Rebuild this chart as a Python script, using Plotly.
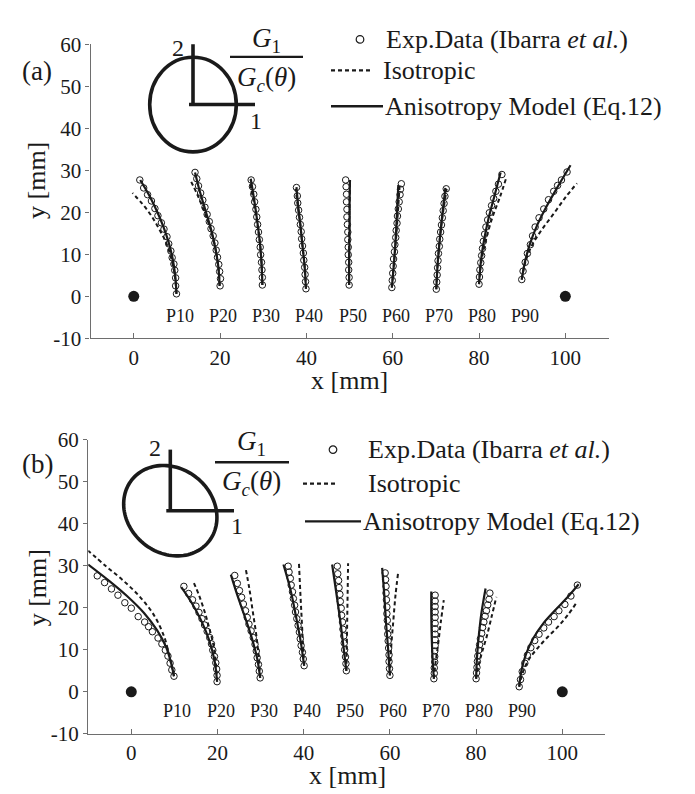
import numpy as np
import plotly.graph_objects as go

W, H = 695, 794

# ---------------- data ----------------
labels = ["P10", "P20", "P30", "P40", "P50", "P60", "P70", "P80", "P90"]
label_x = [10, 20, 30, 40, 50, 60, 70, 80, 90]
support_x = [0, 100]
support_y = [0, 0]
x_ticks = [0, 20, 40, 60, 80, 100]
y_ticks = [-10, 0, 10, 20, 30, 40, 50, 60]
y_tick_text = ["-10", "0", "10", "20", "30", "40", "50", "60"]

# Panel (a): experimental points
a_exp_x = [
    [9.9, 9.7, 9.7, 9.5, 9.3, 8.9, 8.6, 8.1, 7.7, 7.0, 6.4, 5.6, 4.9, 4.1, 3.2, 2.3, 1.4],
    [20.0, 20.1, 19.9, 19.7, 19.4, 19.1, 18.8, 18.4, 17.9, 17.5, 17.0, 16.5, 16.0, 15.5, 15.0, 14.6, 14.2],
    [29.8, 29.8, 29.7, 29.6, 29.4, 29.3, 29.1, 28.9, 28.7, 28.5, 28.3, 28.0, 27.8, 27.5, 27.2],
    [39.9, 39.8, 39.7, 39.6, 39.4, 39.3, 39.1, 38.9, 38.8, 38.6, 38.4, 38.2, 38.0, 37.9, 37.7],
    [49.9, 49.9, 49.8, 49.8, 49.7, 49.7, 49.6, 49.6, 49.5, 49.4, 49.4, 49.3, 49.3, 49.2, 49.1],
    [59.8, 59.9, 60.0, 60.1, 60.2, 60.4, 60.5, 60.7, 60.8, 61.0, 61.1, 61.3, 61.5, 61.7, 61.8, 62.0],
    [70.1, 70.2, 70.3, 70.4, 70.5, 70.6, 70.8, 70.9, 71.1, 71.3, 71.5, 71.7, 71.9, 72.1, 72.4],
    [80.0, 80.1, 80.2, 80.4, 80.6, 80.8, 81.0, 81.3, 81.6, 82.0, 82.4, 82.9, 83.4, 83.9, 84.5, 85.3],
    [89.9, 90.2, 90.7, 91.2, 91.9, 92.4, 93.0, 93.9, 95.0, 96.1, 97.3, 98.2, 99.1, 100.4],
]
a_exp_y = [
    [0.6, 2.5, 4.4, 6.2, 7.7, 9.2, 10.8, 12.5, 14.2, 16.0, 17.5, 19.2, 20.9, 22.7, 24.2, 25.8, 27.7],
    [2.5, 4.2, 5.9, 7.6, 9.3, 11.0, 12.7, 14.4, 16.1, 17.8, 19.5, 21.2, 22.9, 24.6, 26.3, 28.0, 29.5],
    [2.7, 4.5, 6.3, 8.1, 9.9, 11.7, 13.5, 15.3, 17.1, 18.9, 20.7, 22.5, 24.3, 26.1, 27.7],
    [1.8, 3.5, 5.2, 6.9, 8.6, 10.3, 12.0, 13.7, 15.4, 17.1, 18.8, 20.5, 22.2, 23.9, 25.9],
    [2.7, 4.5, 6.3, 8.1, 9.9, 11.7, 13.5, 15.3, 17.1, 18.9, 20.7, 22.5, 24.3, 26.1, 27.7],
    [2.1, 3.8, 5.5, 7.2, 8.9, 10.6, 12.3, 14.0, 15.7, 17.4, 19.1, 20.8, 22.5, 24.2, 25.5, 26.8],
    [1.7, 3.4, 5.1, 6.8, 8.5, 10.2, 11.9, 13.6, 15.3, 17.0, 18.7, 20.4, 22.1, 23.8, 25.6],
    [2.9, 4.6, 6.3, 8.0, 9.7, 11.4, 13.1, 14.8, 16.5, 18.2, 19.9, 21.6, 23.3, 25.0, 26.7, 29.0],
    [4.0, 6.0, 8.1, 10.2, 12.3, 14.4, 16.5, 18.7, 20.8, 23.0, 25.0, 26.4, 27.7, 29.6],
]
# Panel (a): anisotropy model
a_mod_x = [
    [9.9, 9.6, 9.0, 8.1, 6.9, 5.4, 3.6, 1.5],
    [19.9, 19.6, 18.9, 17.9, 16.6, 15.3, 14.2],
    [29.8, 29.6, 29.2, 28.6, 27.9, 27.1],
    [39.9, 39.6, 39.1, 38.6, 38.1, 37.7],
    [49.9, 49.9, 50.0, 50.0, 50.1],
    [59.8, 60.3, 60.7, 61.0, 61.3],
    [70.1, 70.4, 70.9, 71.5, 72.2],
    [80.0, 80.4, 81.1, 82.2, 83.6, 85.0],
    [89.9, 90.6, 91.8, 93.5, 95.7, 98.3, 101.2],
]
a_mod_y = [
    [0.6, 5, 9, 12.8, 16.5, 20.2, 24, 27.7],
    [2.5, 7, 11.5, 16, 20.5, 25, 29.5],
    [2.7, 8, 13, 18, 23, 28],
    [1.8, 7, 12, 17, 21.5, 26],
    [2.7, 9, 15, 21, 27.7],
    [2.1, 8, 14, 20, 26.5],
    [1.7, 7.5, 13.5, 19.5, 25.8],
    [2.9, 8, 13, 18.5, 24, 29.5],
    [4.0, 8, 12.5, 17, 21.5, 26.2, 31.2],
]
# Panel (a): isotropic
a_iso_x = [
    [9.9, 9.5, 8.7, 7.6, 5.9, 4.0, 2.0, -0.3],
    [19.9, 19.6, 18.9, 17.8, 16.3, 14.7, 13.0],
    [29.8, 29.6, 29.2, 28.5, 27.7, 26.8],
    [39.9, 39.6, 39.1, 38.6, 38.0, 37.5],
    [49.9, 49.9, 49.9, 50.0, 50.1],
    [59.8, 60.3, 60.8, 61.2, 61.6],
    [70.1, 70.4, 70.9, 71.6, 72.5],
    [80.0, 80.5, 81.5, 83.0, 84.8, 86.4],
    [89.9, 90.7, 92.2, 94.5, 97.4, 100.2, 102.7],
]
a_iso_y = [
    [0.6, 5, 9, 12.5, 16, 19.3, 22.0, 24.6],
    [2.5, 7, 11.5, 16, 20.3, 24.3, 27.9],
    [2.7, 8, 13, 18, 23, 27.5],
    [1.8, 7, 12, 17, 21.5, 25.6],
    [2.7, 9, 15, 21, 27.5],
    [2.1, 8, 14, 20, 26.3],
    [1.7, 7.5, 13.5, 19.5, 25.6],
    [2.9, 8, 13, 18.5, 23.5, 28.5],
    [4.0, 8, 12, 15.8, 19.8, 23.8, 26.9],
]

# Panel (b): experimental points
b_exp_x = [
    [9.9, 9.4, 9.0, 8.5, 7.9, 7.1, 6.2, 4.9, 4.0, 3.1, 1.6, 0.0, -1.5, -3.1, -4.6, -6.2, -7.9],
    [19.9, 19.9, 19.8, 19.6, 19.3, 18.9, 18.6, 18.2, 17.6, 17.0, 16.4, 15.7, 15.0, 14.2, 13.3, 12.2],
    [29.9, 29.7, 29.5, 29.2, 29.0, 28.7, 28.3, 27.8, 27.3, 26.9, 26.5, 26.0, 25.6, 25.1, 24.6, 24.0],
    [40.1, 39.9, 39.7, 39.4, 39.2, 39.0, 38.7, 38.4, 38.1, 37.9, 37.6, 37.4, 37.1, 36.9, 36.6, 36.4],
    [49.9, 49.8, 49.7, 49.5, 49.4, 49.3, 49.1, 49.0, 48.8, 48.7, 48.5, 48.4, 48.2, 48.1, 47.9, 47.8],
    [60.0, 59.9, 59.8, 59.8, 59.7, 59.6, 59.5, 59.5, 59.4, 59.3, 59.3, 59.2, 59.1, 59.1, 59.0, 58.9],
    [70.2, 70.3, 70.3, 70.4, 70.4, 70.4, 70.5, 70.5, 70.5, 70.5, 70.5, 70.5, 70.5, 70.5, 70.5, 70.5],
    [80.0, 80.1, 80.2, 80.3, 80.4, 80.6, 80.8, 81.0, 81.3, 81.5, 81.8, 82.1, 82.4, 82.7, 83.0, 83.2],
    [90.0, 90.3, 90.7, 91.3, 91.9, 92.7, 93.6, 94.6, 95.7, 96.8, 98.1, 99.2, 100.6, 102.0, 103.5],
]
b_exp_y = [
    [3.7, 5.2, 6.8, 8.5, 9.9, 11.4, 12.8, 14.3, 15.5, 16.6, 17.9, 19.9, 21.2, 23.0, 24.5, 26.0, 27.6],
    [2.4, 3.9, 5.4, 6.9, 8.4, 9.9, 11.4, 12.9, 14.4, 15.9, 17.4, 18.9, 20.4, 21.9, 23.4, 25.1],
    [3.3, 4.9, 6.5, 8.1, 9.7, 11.3, 12.9, 14.5, 16.1, 17.7, 19.3, 20.9, 22.5, 24.1, 25.8, 27.7],
    [6.2, 7.8, 9.4, 11.0, 12.6, 14.2, 15.8, 17.4, 19.0, 20.6, 22.2, 23.8, 25.4, 27.0, 28.5, 29.9],
    [5.0, 6.7, 8.3, 10.0, 11.6, 13.3, 14.9, 16.6, 18.2, 19.9, 21.5, 23.2, 24.8, 26.5, 28.1, 29.9],
    [3.9, 5.5, 7.2, 8.8, 10.4, 12.1, 13.7, 15.3, 17.0, 18.6, 20.2, 21.9, 23.5, 25.1, 26.7, 28.3],
    [3.1, 4.4, 5.7, 7.1, 8.4, 9.7, 11.0, 12.4, 13.7, 15.0, 16.3, 17.7, 19.0, 20.3, 21.6, 23.0],
    [3.1, 4.5, 5.8, 7.2, 8.5, 9.9, 11.2, 12.6, 13.9, 15.3, 16.6, 18.0, 19.3, 20.7, 22.0, 23.5],
    [1.2, 2.9, 4.8, 6.8, 8.7, 10.5, 12.2, 13.7, 15.2, 16.6, 17.9, 19.3, 20.8, 22.8, 25.4],
]
# Panel (b): anisotropy model
b_mod_x = [
    [9.9, 9.2, 8.0, 6.0, 3.0, -1.0, -5.0, -10.0],
    [19.9, 19.3, 18.0, 16.2, 14.0, 11.6],
    [29.9, 29.2, 27.9, 26.3, 24.6, 23.1],
    [40.1, 39.3, 38.2, 37.0, 35.3],
    [49.9, 49.2, 48.4, 47.5, 46.6],
    [60.0, 59.6, 59.1, 58.7, 58.2],
    [70.2, 69.9, 69.7, 69.6, 69.6],
    [80.0, 80.2, 80.6, 81.2, 82.2],
    [90.0, 90.5, 91.6, 93.3, 95.6, 98.5, 101.2, 103.8],
]
b_mod_y = [
    [3.7, 7.0, 10.8, 14.6, 18.7, 22.8, 26.3, 30.3],
    [2.4, 7.5, 12.5, 17.0, 21.2, 24.9],
    [3.3, 8, 13, 18, 23, 27.9],
    [6.2, 12, 18, 24, 30.3],
    [5.0, 11, 17.5, 24, 30.3],
    [3.9, 10, 16.5, 23, 29.5],
    [3.1, 8, 13, 18.5, 23.9],
    [3.1, 8, 13, 18.5, 24.6],
    [1.2, 5, 9, 12.8, 16.3, 19.6, 22.5, 25.6],
]
# Panel (b): isotropic
b_iso_x = [
    [9.9, 9.3, 8.6, 7.7, 5.4, 2.0, -2.0, -6.0, -10.0],
    [19.9, 19.6, 19.0, 18.0, 17.0, 15.7, 14.3],
    [29.9, 29.6, 29.0, 28.2, 27.4, 26.5],
    [40.1, 39.8, 39.5, 39.2, 38.9],
    [49.9, 50.0, 50.1, 50.2, 50.3],
    [60.0, 60.3, 60.8, 61.3, 61.9],
    [70.2, 70.6, 71.2, 71.8, 72.5],
    [80.0, 80.5, 81.4, 82.5, 83.6, 84.7],
    [90.0, 90.8, 92.3, 94.2, 96.4, 99.0, 101.3, 103.3],
]
b_iso_y = [
    [3.7, 6.5, 9.5, 12.9, 18.0, 22.6, 26.6, 30.0, 33.6],
    [2.4, 7, 11.4, 15.5, 19.1, 23.0, 26.4],
    [3.3, 8, 13.5, 19, 24.5, 29.5],
    [6.2, 12, 18, 24, 30.6],
    [5.0, 11, 17.5, 24, 30.6],
    [3.9, 10.6, 17, 23, 28.3],
    [3.1, 7, 11.4, 16.5, 21.8],
    [3.1, 6.0, 9.5, 13.3, 17.9, 22.6],
    [1.2, 4.5, 7.8, 10.3, 12.8, 15.5, 18.3, 21.2],
]

# ---------------- figure ----------------
FONT = "Liberation Serif"
INK = "#1a1a1a"
AXC = "#6e6e6e"
DASH = "4px,3px"


def P(px, py):
    """pixel -> paper"""
    return px / W, 1 - py / H


fig = go.Figure()

panels = [
    ("x", "y", a_exp_x, a_exp_y, a_mod_x, a_mod_y, a_iso_x, a_iso_y),
    ("x2", "y2", b_exp_x, b_exp_y, b_mod_x, b_mod_y, b_iso_x, b_iso_y),
]
for xa, ya, ex, ey, mx, my, ix, iy in panels:
    for i in range(len(labels)):
        fig.add_trace(go.Scatter(x=ix[i], y=iy[i], mode="lines", xaxis=xa, yaxis=ya,
                                 line=dict(color=INK, width=2, dash=DASH, shape="spline", smoothing=1.0),
                                 showlegend=False))
        fig.add_trace(go.Scatter(x=mx[i], y=my[i], mode="lines", xaxis=xa, yaxis=ya,
                                 line=dict(color=INK, width=2.2, shape="spline", smoothing=1.0),
                                 showlegend=False))
        fig.add_trace(go.Scatter(x=ex[i], y=ey[i], mode="markers", xaxis=xa, yaxis=ya,
                                 marker=dict(symbol="circle-open", size=6.5, color=INK, line=dict(width=1)),
                                 showlegend=False))
    fig.add_trace(go.Scatter(x=support_x, y=support_y, mode="markers", xaxis=xa, yaxis=ya,
                             marker=dict(symbol="circle", size=11, color=INK), showlegend=False))

axis_common = dict(showgrid=False, zeroline=False, showline=True, linecolor=AXC, linewidth=1.4,
                   tickcolor=AXC, tickwidth=1.2, tickfont=dict(family=FONT, size=21, color=INK))
xa_kw = dict(range=[-10, 110], tickvals=x_ticks, ticks="inside", ticklen=5, **axis_common)
ya_kw = dict(range=[-10, 60], tickvals=y_ticks, ticktext=y_tick_text, ticks="outside", ticklen=4, **axis_common)

fig.update_layout(
    width=W, height=H, margin=dict(l=0, r=0, t=0, b=0),
    paper_bgcolor="white", plot_bgcolor="white",
    font=dict(family=FONT, color=INK),
    xaxis=dict(domain=[82.6 / W, 600.5 / W], anchor="y", **xa_kw),
    yaxis=dict(domain=[1 - 328.3 / H, 1 - 25 / H], anchor="x", **ya_kw),
    xaxis2=dict(domain=[80.2 / W, 597.4 / W], anchor="y2", **xa_kw),
    yaxis2=dict(domain=[1 - 736 / H, 1 - 432.9 / H], anchor="x2", **ya_kw),
)

ann = []
shapes = []


def text(s, px, py, size, xanchor="center", angle=0):
    x, y = P(px, py)
    ann.append(dict(text=s, x=x, y=y, xref="paper", yref="paper", showarrow=False,
                    xanchor=xanchor, yanchor="middle", textangle=angle,
                    font=dict(family=FONT, size=size, color=INK)))


def line(px0, py0, px1, py1, width, dash=None):
    x0, y0 = P(px0, py0)
    x1, y1 = P(px1, py1)
    ln = dict(color=INK, width=width)
    if dash:
        ln["dash"] = dash
    shapes.append(dict(type="line", xref="paper", yref="paper", x0=x0, y0=y0, x1=x1, y1=y1, line=ln))


# P labels
for xa, ya, yl in (("x", "y", -4.6), ("x2", "y2", -4.7)):
    for lab, lx in zip(labels, label_x):
        ann.append(dict(text=lab, x=lx, y=yl, xref=xa, yref=ya, showarrow=False, xshift=3,
                        font=dict(family=FONT, size=18, color=INK)))

# axis titles
text("y [mm]", 29, 166, 26, angle=-90)
text("y [mm]", 29, 586, 26, angle=-90)
text("x [mm]", 341, 372, 26)
text("x [mm]", 339, 779, 26)

# panel letters
text("(a)", 29, 53, 27)
text("(b)", 29, 458, 27)

# ---- inset (a): circle criterion
cx, cy = 185, 87.2
x0, y0 = P(cx - 43.3, cy - 48.8)
x1, y1 = P(cx + 43.3, cy + 48.8)
shapes.append(dict(type="circle", xref="paper", yref="paper", x0=x0, y0=y0, x1=x1, y1=y1,
                   line=dict(color=INK, width=3.6)))
line(cx, 25, cx, cy, 3.6)
line(cx - 4, cy, 247, cy, 3.6)
text("2", 170, 29, 24)
text("1", 248, 104, 24)
text("<i>G</i><sub>1</sub>", 258, 21, 27)
line(222, 38, 295, 38, 2.4)
text("<i>G<sub>c</sub></i>(<i>θ</i>)", 258, 61, 27)

# ---- inset (b): tilted ellipse criterion
cx, cy = 162.3, 506
t = np.linspace(0, 2 * np.pi, 121)
a_ax, b_ax, ang = 50, 43, np.deg2rad(45)
ex_ = a_ax * np.cos(t)
ey_ = b_ax * np.sin(t)
px_ = cx + ex_ * np.cos(ang) - ey_ * np.sin(ang)
py_ = cy + ex_ * np.sin(ang) + ey_ * np.cos(ang)
path = "M " + " L ".join(f"{px / W:.5f},{1 - py / H:.5f}" for px, py in zip(px_, py_)) + " Z"
shapes.append(dict(type="path", xref="paper", yref="paper", path=path,
                   line=dict(color=INK, width=3.6)))
line(cx, 443, cx, cy, 3.6)
line(cx - 4, cy, 226, cy, 3.6)
text("2", 147, 441, 24)
text("1", 229, 522, 24)
text("<i>G</i><sub>1</sub>", 243, 436, 27)
line(207, 456, 281, 456, 2.4)
text("<i>G<sub>c</sub></i>(<i>θ</i>)", 243, 477, 27)


# ---- legends
def legend(mx, my1, my2, my3, tx1, tx2, tx3, dash0, dash1, sol0, sol1):
    x0, y0 = P(mx - 3.8, my1 - 3.8)
    x1, y1 = P(mx + 3.8, my1 + 3.8)
    shapes.append(dict(type="circle", xref="paper", yref="paper", x0=x0, y0=y0, x1=x1, y1=y1,
                       line=dict(color=INK, width=1.2)))
    text("Exp.Data (Ibarra <i>et al.</i>)", tx1, my1, 26, xanchor="left")
    line(dash0, my2, dash1, my2, 2.2, dash=DASH)
    text("Isotropic", tx2, my2, 26, xanchor="left")
    line(sol0, my3, sol1, my3, 2.4)
    text("Anisotropy Model (Eq.12)", tx3, my3, 26, xanchor="left")


legend(352, 20, 52, 89, 376, 373, 375, 323, 365, 323, 375)
legend(325, 443, 478, 517, 358, 358, 353, 295, 329, 297, 353)

fig.update_layout(annotations=ann, shapes=shapes)
fig.write_html("out.html")
